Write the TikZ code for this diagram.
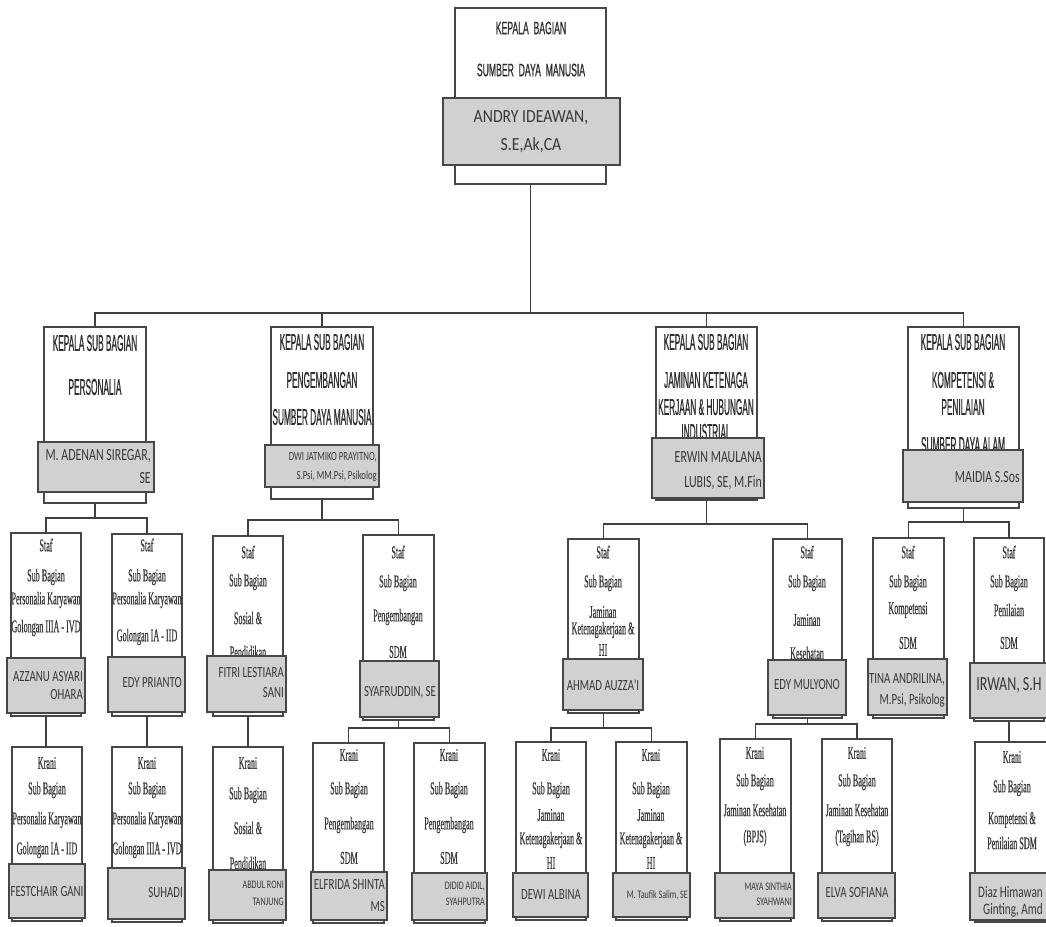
\documentclass[tikz,border=0pt]{standalone}
\usepackage{fontspec}
\setmainfont{Liberation Sans}
\newfontfamily\hfa[FakeStretch=0.48,FakeBold=0.6]{Liberation Sans}
\newfontfamily\hf[FakeStretch=0.36,FakeBold=0.6]{Liberation Sans}
\newfontfamily\sfn[FakeStretch=0.45,FakeBold=0.5]{Liberation Serif}
\newfontfamily\nfw[FakeStretch=0.85]{Carlito}
\newfontfamily\nfc[FakeStretch=0.7]{Carlito}
\usetikzlibrary{fit}
\tikzset{
 ob/.style={draw=black!72, line width=1.5pt, fill=white, inner sep=0pt, outer sep=0pt},
 gb/.style={draw=black!72, line width=1.5pt, fill=black!18, inner sep=0pt, outer sep=0pt},
 conn/.style={draw=black!75, line width=1.5pt},
 h1/.style={font=\hfa\fontsize{18}{18}\selectfont, text=black!82, inner sep=0pt},
 h2/.style={font=\hf\fontsize{23}{23}\selectfont, text=black!82, inner sep=0pt},
 st/.style={font=\sfn\fontsize{18}{18}\selectfont, text=black!78, inner sep=0pt},
 n1/.style={font=\nfw\fontsize{18.5}{18.5}\selectfont, text=black!78, inner sep=0pt},
 n2/.style={font=\nfc\fontsize{17}{17}\selectfont, text=black!78, inner sep=0pt},
 n3/.style={font=\nfc\fontsize{15.5}{15.5}\selectfont, text=black!78, inner sep=0pt},
 n4/.style={font=\nfc\fontsize{11.5}{11.5}\selectfont, text=black!78, inner sep=0pt},
 n5/.style={font=\nfc\fontsize{20}{20}\selectfont, text=black!78, inner sep=0pt},
}
\begin{document}
\begin{tikzpicture}[x=1pt,y=-1pt]
\useasboundingbox[fill=white] (0,0) rectangle (1046,926);
\clip (0,0) rectangle (1046,926);
% ---------- top
\node[ob, fit={(455,8) (606,184)}] (top) {};
\node[h1] (topa) at (531,28) {KEPALA\ \ BAGIAN};
\node[h1] (topb) at (531,70) {SUMBER\ \ DAYA\ \ MANUSIA};
\node[gb, fit={(443,98) (620,165)}] (topg) {};
\node[n1] (topc) at (531,118) {ANDRY IDEAWAN,};
\node[n1] (topd) at (531,145) {S.E,Ak,CA};
% ---------- level 2
\node[ob, fit={(44,327) (146,503)}] (p1) {};
\node[h2] (p1a) at (95,343) {KEPALA SUB BAGIAN};
\node[h2] (p1b) at (95,387) {PERSONALIA};
\node[gb, fit={(38,442) (154,492)}] (p1g) {};
\node[n2, anchor=east] (p1c) at (151,456) {M. ADENAN SIREGAR,};
\node[n2, anchor=east] (p1d) at (151,478) {SE};

\node[ob, fit={(271,327) (373,499)}] (p2) {};
\node[h2] (p2a) at (322,342) {KEPALA SUB BAGIAN};
\node[h2] (p2b) at (322,380) {PENGEMBANGAN};
\node[h2] (p2c) at (322,417) {SUMBER DAYA MANUSIA};
\node[gb, fit={(265,445) (379,487)}] (p2g) {};
\node[n4, anchor=east, font=\nfc\fontsize{12.5}{12.5}\selectfont] (p2d) at (377,457) {DWI JATMIKO PRAYITNO,};
\node[n4, anchor=east, font=\nfc\fontsize{12.5}{12.5}\selectfont] (p2e) at (377,476) {S.Psi, MM.Psi, Psikolog};

\node[ob, fit={(656,327) (757,500)}] (p3) {};
\node[h2] (p3a) at (706,342) {KEPALA SUB BAGIAN};
\node[h2] (p3b) at (706,380) {JAMINAN KETENAGA};
\node[h2] (p3c) at (706,407) {KERJAAN \& HUBUNGAN};
\node[h2] (p3d) at (706,432) {INDUSTRIAL};
\node[gb, fit={(652,438) (764,498)}] (p3g) {};
\node[n2, anchor=east] (p3e) at (762,457) {ERWIN MAULANA};
\node[n2, anchor=east] (p3f) at (762,483) {LUBIS, SE, M.Fin};

\node[ob, fit={(908,327) (1019,508)}] (p4) {};
\node[h2] (p4a) at (963,342) {KEPALA SUB BAGIAN};
\node[h2] (p4b) at (963,380) {KOMPETENSI \&};
\node[h2] (p4c) at (963,407) {PENILAIAN};
\node[h2] (p4d) at (963,445) {SUMBER DAYA ALAM};
\node[gb, fit={(903,450) (1023,502)}] (p4g) {};
\node[n2, anchor=east] (p4e) at (1020,477) {MAIDIA S.Sos};
% ---------- staff
\node[ob, fit={(11,533) (81,716)}] (s1) {};
\node[st] (s1a) at (46,545) {Staf};
\node[st] (s1b) at (46,577) {Sub Bagian};
\node[st] (s1c) at (46,600) {Personalia Karyawan};
\node[st] (s1d) at (46,628) {Golongan IIIA - IVD};
\node[gb, fit={(7,658) (85,713)}] (s1g) {};
\node[n3, anchor=east] (s1e) at (83,677) {AZZANU ASYARI};
\node[n3, anchor=east] (s1f) at (83,695) {OHARA};

\node[ob, fit={(112,534) (182,716)}] (s2) {};
\node[st] (s2a) at (147,545) {Staf};
\node[st] (s2b) at (147,577) {Sub Bagian};
\node[st] (s2c) at (147,600) {Personalia Karyawan};
\node[st] (s2d) at (147,637) {Golongan IA - IID};
\node[gb, fit={(108,657) (185,712)}] (s2g) {};
\node[n3, anchor=east] (s2e) at (182,683) {EDY PRIANTO};

\node[ob, fit={(213,536) (283,716)}] (s3) {};
\node[st] (s3a) at (248,552) {Staf};
\node[st] (s3b) at (248,582) {Sub Bagian};
\node[st] (s3c) at (248,618) {Sosial \&};
\node[st] (s3d) at (248,652) {Pendidikan};
\node[gb, fit={(207,656) (286,712)}] (s3g) {};
\node[n3, anchor=east] (s3e) at (284,673) {FITRI LESTIARA};
\node[n3, anchor=east] (s3f) at (284,693) {SANI};

\node[ob, fit={(363,535) (434,720)}] (s4) {};
\node[st] (s4a) at (398,552) {Staf};
\node[st] (s4b) at (398,583) {Sub Bagian};
\node[st] (s4c) at (398,617) {Pengembangan};
\node[st] (s4d) at (398,652) {SDM};
\node[gb, fit={(360,661) (439,717)}] (s4g) {};
\node[n3] (s4e) at (400,692) {SYAFRUDDIN, SE};

\node[ob, fit={(568,539) (639,713)}] (s5) {};
\node[st] (s5a) at (603,552) {Staf};
\node[st] (s5b) at (603,583) {Sub Bagian};
\node[st] (s5c) at (603,612) {Jaminan};
\node[st] (s5d) at (603,630) {Ketenagakerjaan \&};
\node[st] (s5e) at (603,650) {HI};
\node[gb, fit={(563,659) (643,710)}] (s5g) {};
\node[n3] (s5f) at (603,685) {AHMAD AUZZA'I};

\node[ob, fit={(773,539) (842,718)}] (s6) {};
\node[st] (s6a) at (807,552) {Staf};
\node[st] (s6b) at (807,583) {Sub Bagian};
\node[st] (s6c) at (807,620) {Jaminan};
\node[st] (s6d) at (807,653) {Kesehatan};
\node[gb, fit={(768,660) (846,715)}] (s6g) {};
\node[n3] (s6e) at (807,685) {EDY MULYONO};

\node[ob, fit={(873,538) (944,718)}] (s7) {};
\node[st] (s7a) at (908,552) {Staf};
\node[st] (s7b) at (908,583) {Sub Bagian};
\node[st] (s7c) at (908,610) {Kompetensi};
\node[st] (s7d) at (908,643) {SDM};
\node[gb, fit={(868,659) (947,715)}] (s7g) {};
\node[n3, anchor=east] (s7e) at (945,680) {TINA ANDRILINA,};
\node[n3, anchor=east] (s7f) at (945,700) {M.Psi, Psikolog};

\node[ob, fit={(974,538) (1044,721)}] (s8) {};
\node[st] (s8a) at (1009,552) {Staf};
\node[st] (s8b) at (1009,583) {Sub Bagian};
\node[st] (s8c) at (1009,610) {Penilaian};
\node[st] (s8d) at (1009,643) {SDM};
\node[gb, fit={(970,663) (1052,718)}] (s8g) {};
\node[n5] (s8e) at (1009,685) {IRWAN, S.H};
% ---------- krani
\node[ob, fit={(12,747) (82,921)}] (k1) {};
\node[st] (k1a) at (47,763) {Krani};
\node[st] (k1b) at (47,790) {Sub Bagian};
\node[st] (k1c) at (47,820) {Personalia Karyawan};
\node[st] (k1d) at (47,850) {Golongan IA - IID};
\node[gb, fit={(9,864) (85,918)}] (k1g) {};
\node[n3] (k1e) at (47,892) {FESTCHAIR GANI};

\node[ob, fit={(112,747) (182,922)}] (k2) {};
\node[st] (k2a) at (147,763) {Krani};
\node[st] (k2b) at (147,790) {Sub Bagian};
\node[st] (k2c) at (147,820) {Personalia Karyawan};
\node[st] (k2d) at (147,850) {Golongan IIIA - IVD};
\node[gb, fit={(108,868) (185,919)}] (k2g) {};
\node[n3, anchor=east] (k2e) at (183,893) {SUHADI};

\node[ob, fit={(213,747) (283,923)}] (k3) {};
\node[st] (k3a) at (248,763) {Krani};
\node[st] (k3b) at (248,795) {Sub Bagian};
\node[st] (k3c) at (248,828) {Sosial \&};
\node[st] (k3d) at (248,863) {Pendidikan};
\node[gb, fit={(209,870) (286,920)}] (k3g) {};
\node[n4, anchor=east] (k3e) at (284,885) {ABDUL RONI};
\node[n4, anchor=east] (k3f) at (284,902) {TANJUNG};

\node[ob, fit={(313,743) (384,923)}] (k4) {};
\node[st] (k4a) at (349,755) {Krani};
\node[st] (k4b) at (349,790) {Sub Bagian};
\node[st] (k4c) at (349,825) {Pengembangan};
\node[st] (k4d) at (349,858) {SDM};
\node[gb, fit={(311,872) (387,920)}] (k4g) {};
\node[n3, anchor=east] (k4e) at (385,885) {ELFRIDA SHINTA};
\node[n3, anchor=east] (k4f) at (385,907) {MS};

\node[ob, fit={(414,743) (485,923)}] (k5) {};
\node[st] (k5a) at (449,755) {Krani};
\node[st] (k5b) at (449,790) {Sub Bagian};
\node[st] (k5c) at (449,825) {Pengembangan};
\node[st] (k5d) at (449,858) {SDM};
\node[gb, fit={(412,873) (487,920)}] (k5g) {};
\node[n4, anchor=east] (k5e) at (485,887) {DIDID AIDIL,};
\node[n4, anchor=east] (k5f) at (485,902) {SYAHPUTRA};

\node[ob, fit={(516,742) (586,920)}] (k6) {};
\node[st] (k6a) at (551,755) {Krani};
\node[st] (k6b) at (551,790) {Sub Bagian};
\node[st] (k6c) at (551,815) {Jaminan};
\node[st] (k6d) at (551,840) {Ketenagakerjaan \&};
\node[st] (k6e) at (551,863) {HI};
\node[gb, fit={(513,873) (588,917)}] (k6g) {};
\node[n3] (k6f) at (551,895) {DEWI ALBINA};

\node[ob, fit={(616,742) (687,920)}] (k7) {};
\node[st] (k7a) at (651,755) {Krani};
\node[st] (k7b) at (651,790) {Sub Bagian};
\node[st] (k7c) at (651,815) {Jaminan};
\node[st] (k7d) at (651,840) {Ketenagakerjaan \&};
\node[st] (k7e) at (651,863) {HI};
\node[gb, fit={(613,873) (690,917)}] (k7g) {};
\node[n4, anchor=east] (k7f) at (688,895) {M. Taufik Salim, SE};

\node[ob, fit={(720,739) (791,921)}] (k8) {};
\node[st] (k8a) at (755,753) {Krani};
\node[st] (k8b) at (755,782) {Sub Bagian};
\node[st] (k8c) at (755,810) {Jaminan Kesehatan};
\node[st] (k8d) at (755,838) {(BPJS)};
\node[gb, fit={(715,873) (794,918)}] (k8g) {};
\node[n4, anchor=east] (k8e) at (792,887) {MAYA SINTHIA};
\node[n4, anchor=east] (k8f) at (792,902) {SYAHWANI};

\node[ob, fit={(822,739) (892,921)}] (k9) {};
\node[st] (k9a) at (857,753) {Krani};
\node[st] (k9b) at (857,782) {Sub Bagian};
\node[st] (k9c) at (857,810) {Jaminan Kesehatan};
\node[st] (k9d) at (857,838) {(Tagihan RS)};
\node[gb, fit={(818,873) (895,918)}] (k9g) {};
\node[n3] (k9e) at (857,893) {ELVA SOFIANA};

\node[ob, fit={(975,742) (1048,922)}] (k10) {};
\node[st] (k10a) at (1012,757) {Krani};
\node[st] (k10b) at (1012,788) {Sub Bagian};
\node[st] (k10c) at (1012,820) {Kompetensi \&};
\node[st] (k10d) at (1012,843) {Penilaian SDM};
\node[gb, fit={(970,873) (1052,920)}] (k10g) {};
\node[n2, anchor=east, font=\nfc\fontsize{16}{16}\selectfont] (k10e) at (1043,892) {Diaz Himawan};
\node[n2, anchor=east, font=\nfc\fontsize{16}{16}\selectfont] (k10f) at (1043,910) {Ginting, Amd};
% ---------- connectors
\coordinate (bt) at (top.south |- 0,313);
\draw[conn] (top.south) -- (bt);
\foreach \c in {p1,p2,p3,p4} \draw[conn] (bt) -| (\c.north);
\coordinate (bp1) at (p1.south |- 0,518);
\draw[conn] (p1.south) -- (bp1);
\foreach \c in {s1,s2} \draw[conn] (bp1) -| (\c.north);
\coordinate (bp2) at (p2.south |- 0,520);
\draw[conn] (p2.south) -- (bp2);
\foreach \c in {s3,s4} \draw[conn] (bp2) -| (\c.north);
\coordinate (bp3) at (p3.south |- 0,524);
\draw[conn] (p3.south) -- (bp3);
\foreach \c in {s5,s6} \draw[conn] (bp3) -| (\c.north);
\coordinate (bp4) at (p4.south |- 0,522);
\draw[conn] (p4.south) -- (bp4);
\foreach \c in {s7,s8} \draw[conn] (bp4) -| (\c.north);
\draw[conn] (s1.south) -- (s1.south |- k1.north);
\draw[conn] (s2.south) -- (s2.south |- k2.north);
\draw[conn] (s3.south) -- (s3.south |- k3.north);
\coordinate (bs4) at (s4.south |- 0,728);
\draw[conn] (s4.south) -- (bs4);
\foreach \c in {k4,k5} \draw[conn] (bs4) -| (\c.north);
\coordinate (bs5) at (s5.south |- 0,728);
\draw[conn] (s5.south) -- (bs5);
\foreach \c in {k6,k7} \draw[conn] (bs5) -| (\c.north);
\coordinate (bs6) at (s6.south |- 0,724);
\draw[conn] (s6.south) -- (bs6);
\foreach \c in {k8,k9} \draw[conn] (bs6) -| (\c.north);
\draw[conn] (s8.south) -- (s8.south |- k10.north);
\end{tikzpicture}
\end{document}
